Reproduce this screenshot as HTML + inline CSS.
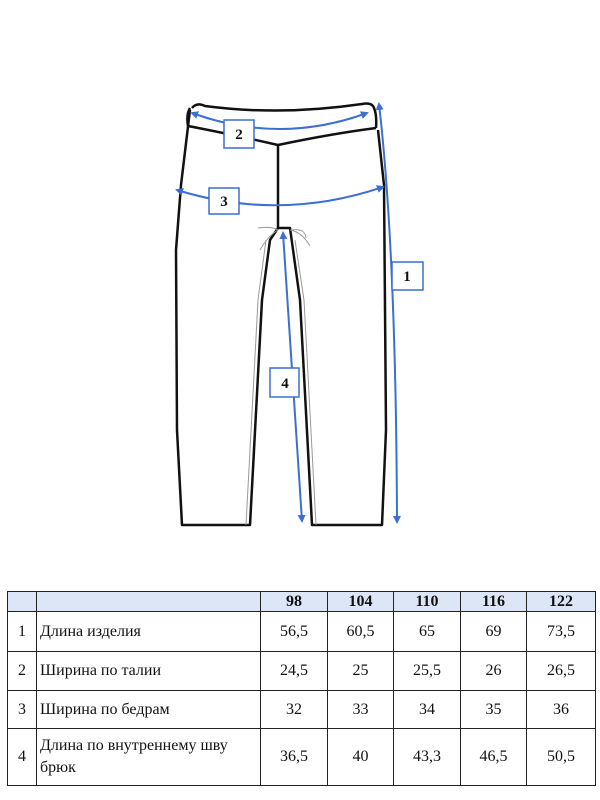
<!DOCTYPE html>
<html><head><meta charset="utf-8"><style>
body{margin:0;background:#fff;width:600px;height:800px;position:relative;overflow:hidden;font-family:"Liberation Serif",serif}
svg{position:absolute;left:0;top:0}
table{position:absolute;left:7px;top:591px;border-collapse:collapse;font-family:"Liberation Serif","Noto Serif CJK SC",serif;font-size:16px}
td{border:1.5px solid #222;text-align:center;padding:0;color:#111}
tr.h td{background:#dde6f7;font-weight:bold;height:19px}
td.l{text-align:left;padding-left:3px;line-height:22px}
</style></head><body>
<svg width="600" height="560" viewBox="0 0 600 560">
<defs><marker id="a" markerWidth="8" markerHeight="8" refX="6" refY="4" orient="auto-start-reverse" markerUnits="userSpaceOnUse"><path d="M0,0 L8,4 L0,8 z" fill="#3b6fd1"/></marker></defs>
<g fill="none" stroke="#111" stroke-width="2.5" stroke-linejoin="round">
<path d="M192,108 Q197,102 205,106 Q280,116 362,104 Q372,102 374,108 Q377,115 376,128"/>
<path d="M190,108 Q186,115 188,126 Q230,134 278,145 Q330,134 376,128"/>
<path d="M190,110 L181,185 L176,250 L177,430 L182,525 L250,525 L262,300 L270,240 L278,228 L290,228 L300,300 L312,525 L382,525 L386,430 L384,185 L378,130"/>
<path d="M278,145 L278,228"/>
</g>
<g fill="none" stroke="#999" stroke-width="1">
<path d="M246,525 L258,300 L266,240"/><path d="M316,525 L304,300 L295,240"/>
<path d="M258,228 Q272,226 278,230 M260,250 Q268,236 278,230 M290,230 Q302,232 310,246 M292,230 Q305,228 306,238"/>
</g>
<g fill="none" stroke="#3b6fd1" stroke-width="2">
<path d="M379,104 Q396,250 397,522" marker-start="url(#a)" marker-end="url(#a)"/>
<path d="M192,113 Q280,145 367,113" marker-start="url(#a)" marker-end="url(#a)"/>
<path d="M177,190 Q280,222 383,187" marker-start="url(#a)" marker-end="url(#a)"/>
<path d="M283,233 L302,521" marker-start="url(#a)" marker-end="url(#a)"/>
</g>
<g fill="#fff" stroke="#3b6fd1" stroke-width="1.5">
<rect x="392" y="262" width="31" height="28"/><rect x="224" y="120" width="30" height="28"/>
<rect x="209" y="188" width="30" height="26"/><rect x="270" y="368" width="29" height="29"/>
</g>
<g font-family="Liberation Serif" font-weight="bold" font-size="15" text-anchor="middle" fill="#111">
<text x="407" y="281">1</text><text x="239" y="139">2</text><text x="224" y="206">3</text><text x="285" y="388">4</text>
</g>
</svg>
<table>
<tr class="h"><td style="width:28px"></td><td style="width:223px"></td><td style="width:66px">98</td><td style="width:65px">104</td><td style="width:66px">110</td><td style="width:65px">116</td><td style="width:68px">122</td></tr>
<tr style="height:40px"><td>1</td><td class="l">Длина изделия</td><td>56,5</td><td>60,5</td><td>65</td><td>69</td><td>73,5</td></tr>
<tr style="height:39px"><td>2</td><td class="l">Ширина по талии</td><td>24,5</td><td>25</td><td>25,5</td><td>26</td><td>26,5</td></tr>
<tr style="height:38px"><td>3</td><td class="l">Ширина по бедрам</td><td>32</td><td>33</td><td>34</td><td>35</td><td>36</td></tr>
<tr style="height:57px"><td>4</td><td class="l">Длина по внутреннему шву<br>брюк</td><td>36,5</td><td>40</td><td>43,3</td><td>46,5</td><td>50,5</td></tr>
</table>
</body></html>
